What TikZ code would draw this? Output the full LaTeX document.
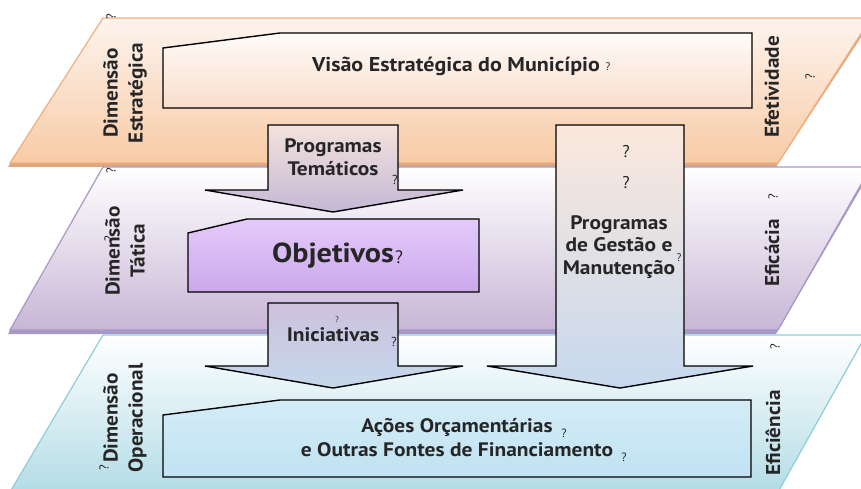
\documentclass[tikz,border=0pt]{standalone}
\usepackage{fontspec}
\setmainfont{PT Sans}
\newfontfamily\widefont[FakeStretch=1.1]{PT Sans}
\newfontfamily\labfont[FakeStretch=1.06]{PT Sans}
\definecolor{txt}{HTML}{262626}
\definecolor{orB}{HTML}{F2AE7C}
\definecolor{orT}{HTML}{FDF4EE}
\definecolor{orM}{HTML}{F8CBA6}
\definecolor{puB}{HTML}{A898C6}
\definecolor{puM}{HTML}{C8B6D6}
\definecolor{blB}{HTML}{8ECDDB}
\definecolor{blM}{HTML}{B3DCE6}
\begin{document}
\begin{tikzpicture}[x=1pt,y=-1pt,
  boxline/.style={draw=black,line width=1.4pt,line join=miter},
  lab/.style={text=txt,font=\labfont\bfseries\fontsize{20}{25}\selectfont,rotate=90,align=center,inner sep=0pt},
  body/.style={text=txt,font=\widefont\bfseries\fontsize{19.5}{23}\selectfont,align=center,inner sep=0pt},
  qm/.style={text=txt,font=\fontsize{13}{13}\selectfont,inner sep=0pt},
  qmr/.style={qm,rotate=90}]
\useasboundingbox (0,0) rectangle (861,489);
\clip (0,0) rectangle (861,489);
\fill[white] (0,0) rectangle (861,489);
% layers
\fill[orB!90!black!90] (101,22) -- (871,22) -- (776,167) -- (8,167) -- cycle;
\shade[top color=orT,bottom color=orM,draw=orB,line width=1.2pt] (103,18) -- (871,18) -- (778,163) -- (10,163) -- cycle;
\fill[puB] (101,171) -- (871,171) -- (776,334) -- (8,334) -- cycle;
\shade[top color=white,bottom color=puM,draw=puB,line width=1.2pt] (103,167) -- (871,167) -- (778,330) -- (10,330) -- cycle;
\shade[top color=white,bottom color=blM,draw=blB,line width=1.2pt] (103,335) -- (866,335) -- (778,492) -- (10,492) -- cycle;
% Visao box
\shade[top color=white!60!orT,bottom color={rgb,255:red,249;green,222;blue,204}] (163,48) -- (280,33) -- (752,33) -- (752,108) -- (163,108) -- cycle;
\draw[boxline] (163,48) -- (280,33) -- (752,33) -- (752,108) -- (163,108) -- cycle;
\node[body,font=\widefont\bfseries\fontsize{20}{23}\selectfont] (visao) at (456,66) {Visão Estratégica do Município};
% arrows
\shade[top color={rgb,255:red,244;green,226;blue,220},bottom color={rgb,255:red,196;green,184;blue,214}] (268,125) -- (398,125) -- (398,190) -- (463,190) -- (333,212) -- (205,190) -- (268,190) -- cycle;
\draw[boxline] (268,125) -- (398,125) -- (398,190) -- (463,190) -- (333,212) -- (205,190) -- (268,190) -- cycle;
\shade[top color={rgb,255:red,205;green,193;blue,221},bottom color={rgb,255:red,196;green,216;blue,236}] (268,303) -- (398,303) -- (398,366) -- (463,366) -- (333,388) -- (205,366) -- (268,366) -- cycle;
\draw[boxline] (268,303) -- (398,303) -- (398,366) -- (463,366) -- (333,388) -- (205,366) -- (268,366) -- cycle;
\shade[top color={rgb,255:red,251;green,232;blue,220},middle color={rgb,255:red,228;green,220;blue,232},bottom color={rgb,255:red,198;green,216;blue,238}] (556,125) -- (684,125) -- (684,366) -- (753,366) -- (620,388) -- (487,366) -- (556,366) -- cycle;
\draw[boxline] (556,125) -- (684,125) -- (684,366) -- (753,366) -- (620,388) -- (487,366) -- (556,366) -- cycle;
% Objetivos
\shade[top color={rgb,255:red,228;green,202;blue,251},bottom color={rgb,255:red,203;green,168;blue,235}] (188,233) -- (247,219) -- (479,219) -- (479,292) -- (188,292) -- cycle;
\draw[boxline] (188,233) -- (247,219) -- (479,219) -- (479,292) -- (188,292) -- cycle;
% Acoes
\shade[top color={rgb,255:red,212;green,236;blue,247},bottom color={rgb,255:red,192;green,226;blue,242}] (163,415) -- (280,400) -- (751,400) -- (751,477) -- (163,477) -- cycle;
\draw[boxline] (163,415) -- (280,400) -- (751,400) -- (751,477) -- (163,477) -- cycle;
% texts
\node[body] (ptem) at (333,157) {Programas\\Temáticos};
\node[body,font=\widefont\bfseries\fontsize{27.5}{30}\selectfont] (obj) at (333,256) {Objetivos};
\node[body] (inic) at (333,335) {Iniciativas};
\node[body,font=\widefont\bfseries\fontsize{19.5}{22.5}\selectfont] (pges) at (619,247) {Programas\\de Gestão e\\Manutenção};
\node[body,font=\widefont\bfseries\fontsize{19.5}{24}\selectfont] (acoes) at (457,438) {Ações Orçamentárias\\e Outras Fontes de Financiamento};
\node[lab] (de) at (125,93) {Dimensão\\Estratégica};
\node[lab] (dt) at (125,251) {Dimensão\\Tática};
\node[lab] (dop) at (125,418) {Dimensão\\Operacional};
\node[lab] (efet) at (772,87) {Efetividade};
\node[lab] (efic) at (772,253) {Eficácia};
\node[lab] (eficn) at (773,433) {Eficiência};
% stray question marks
\node[qmr] (q1) at (111,17) {?};
\node[qmr] (q2) at (810,77) {?};
\node[qm,font=\fontsize{11}{11}\selectfont] (q3) at (608,67) {?};
\node[qm,font=\fontsize{17}{17}\selectfont] (q4) at (626,152) {?};
\node[qm,font=\fontsize{17}{17}\selectfont] (q5) at (626,183) {?};
\node[qm] (q6) at (395,180) {?};
\node[qmr] (q7) at (111,171) {?};
\node[qmr] (q8) at (109,239) {?};
\node[qm,font=\fontsize{18}{18}\selectfont] (q9) at (399,257) {?};
\node[qmr] (q10) at (773,197) {?};
\node[qm,font=\fontsize{11}{11}\selectfont] (q11) at (679,258) {?};
\node[qm,font=\fontsize{8}{8}\selectfont] (q12) at (337,320) {?};
\node[qm] (q13) at (394,342) {?};
\node[qmr] (q14) at (775,347) {?};
\node[qmr] (q15) at (104,468) {?};
\node[qm,font=\fontsize{12}{12}\selectfont] (q16) at (564,433) {?};
\node[qm,font=\fontsize{12}{12}\selectfont] (q17) at (624,457) {?};
\end{tikzpicture}
\end{document}
